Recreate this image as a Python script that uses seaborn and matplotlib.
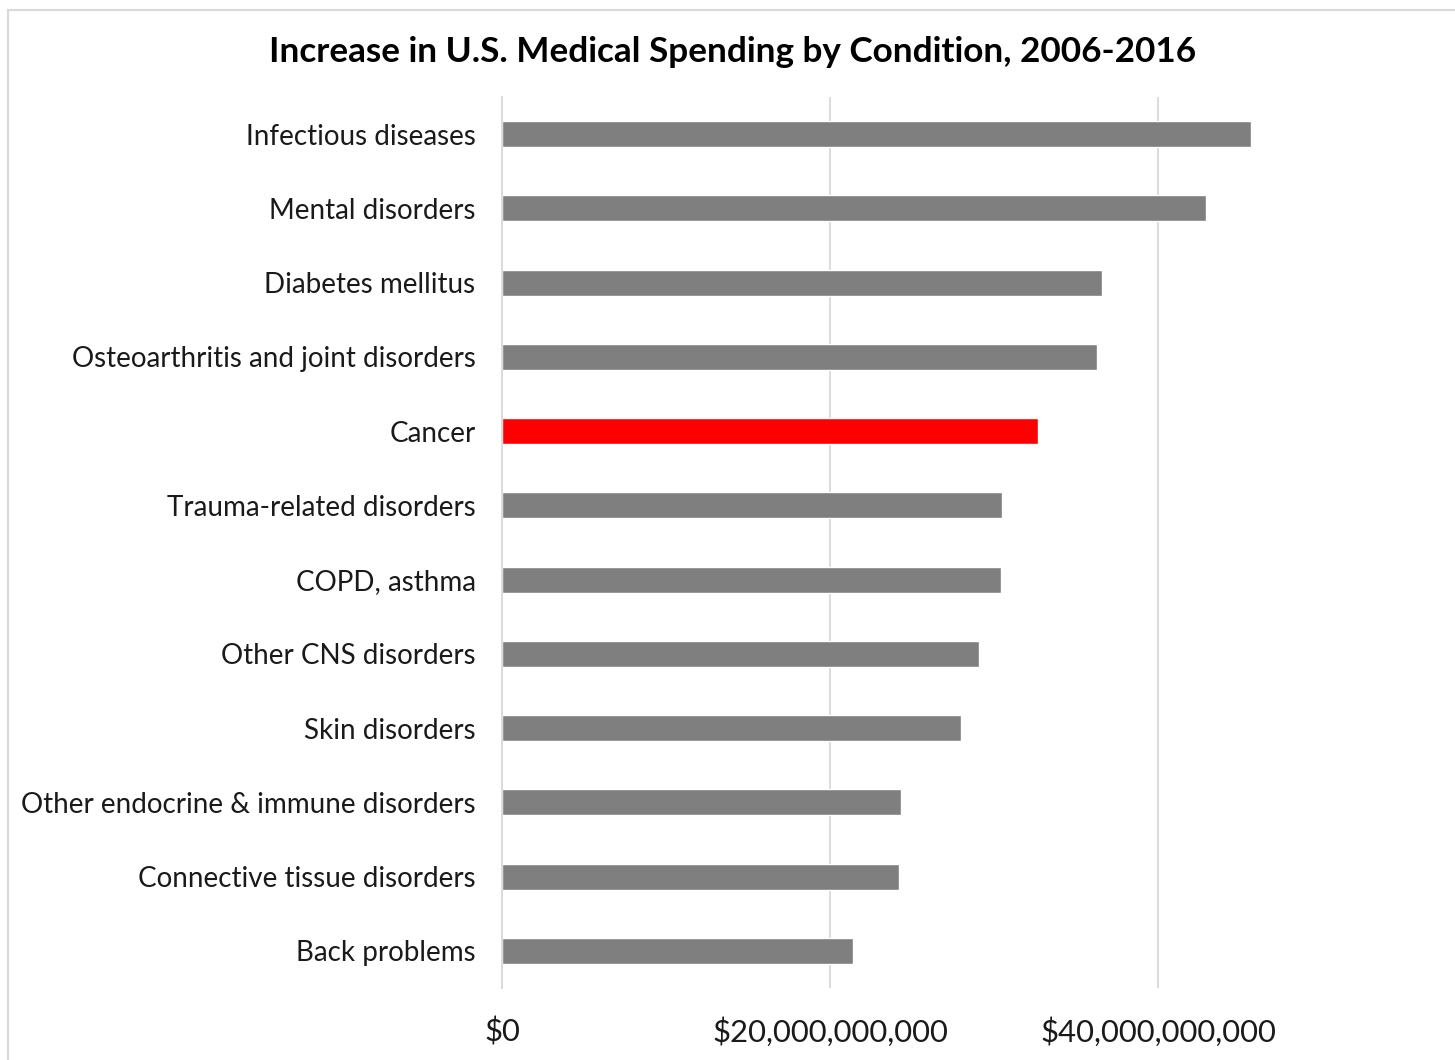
import matplotlib
matplotlib.use("Agg")
import matplotlib.pyplot as plt
import seaborn as sns
import pandas as pd
from matplotlib.patches import Rectangle
from matplotlib.ticker import FuncFormatter

conditions = [
    "Infectious diseases",
    "Mental disorders",
    "Diabetes mellitus",
    "Osteoarthritis and joint disorders",
    "Cancer",
    "Trauma-related disorders",
    "COPD, asthma",
    "Other CNS disorders",
    "Skin disorders",
    "Other endocrine & immune disorders",
    "Connective tissue disorders",
    "Back problems",
]
# Increase in spending, billions of US dollars
increase_bn = [45.7, 42.9, 36.6, 36.3, 32.7, 30.5, 30.4, 29.1, 28.0, 24.3, 24.2, 21.4]
highlight = "Cancer"

df = pd.DataFrame({
    "condition": conditions,
    "increase": [v * 1e9 for v in increase_bn],
})
df["group"] = ["hl" if c == highlight else "base" for c in df["condition"]]

sns.set_theme(style="white")
plt.rcParams["font.family"] = ["Lato", "DejaVu Sans"]

W, H = 1455, 1060
fig = plt.figure(figsize=(W / 100, H / 100), dpi=100)
ax = fig.add_axes([502 / W, 72 / H, 984 / W, 891 / H])

sns.barplot(
    data=df, x="increase", y="condition", hue="group",
    palette={"base": "#7f7f7f", "hl": "#ff0000"},
    orient="h", width=0.35, legend=False, ax=ax, saturation=1,
)

ax.set_xlim(0, 60e9)
ax.set_xticks([0, 20e9, 40e9])
ax.xaxis.set_major_formatter(FuncFormatter(lambda v, p: f"${v:,.0f}"))
ax.grid(axis="x", color="#d9d9d9", linewidth=1.3)
ax.set_axisbelow(True)
for s in ["top", "right", "bottom"]:
    ax.spines[s].set_visible(False)
ax.spines["left"].set_color("#d9d9d9")
ax.spines["left"].set_linewidth(1.3)
ax.set_xlabel("")
ax.set_ylabel("")
ax.tick_params(axis="y", length=0, pad=19, labelsize=20, labelcolor="#1a1a1a")
ax.tick_params(axis="x", length=0, pad=21, labelsize=22.3, labelcolor="#1a1a1a")

fig.text(733 / W, 1 - 52 / H, "Increase in U.S. Medical Spending by Condition, 2006-2016",
         ha="center", va="center", fontsize=25.3, fontweight="bold", color="black")

fig.patches.append(Rectangle((8 / W, -0.1), 1.2, 1 - 10 / H + 0.1,
                             transform=fig.transFigure, fill=False,
                             edgecolor="#d9d9d9", linewidth=1.5))

fig.savefig("out.png", dpi=100)
